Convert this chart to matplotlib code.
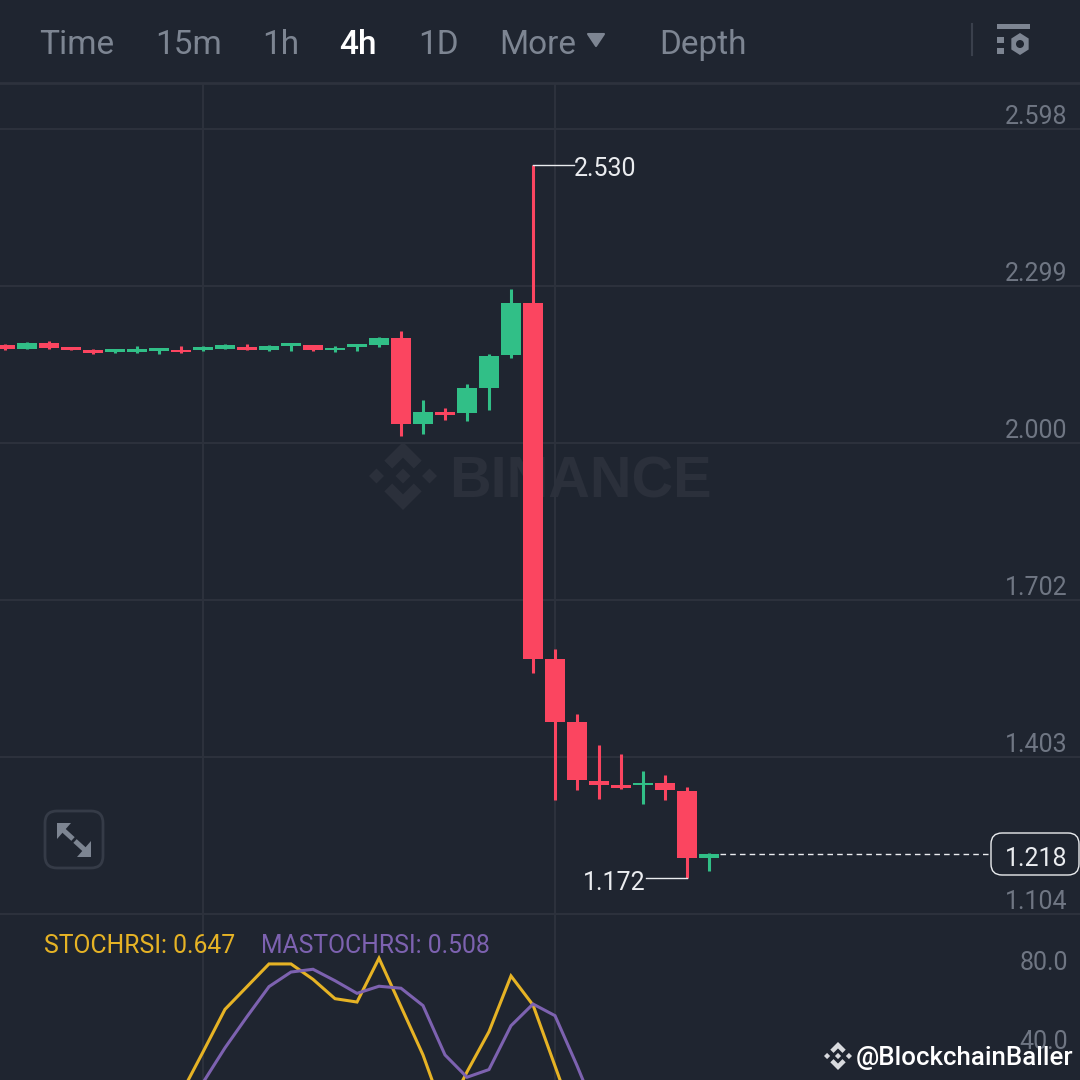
import numpy as np
import matplotlib
matplotlib.use('Agg')
import matplotlib.pyplot as plt
import matplotlib.transforms as mtrans
from matplotlib.patches import FancyBboxPatch, Polygon, Rectangle, Circle

plt.rcParams['font.family'] = ['Roboto', 'DejaVu Sans']

# candles
opens = [2.187, 2.179, 2.190, 2.183, 2.178, 2.174, 2.174, 2.176, 2.178, 2.178, 2.180,
         2.183, 2.178, 2.184, 2.187, 2.177, 2.183, 2.186, 2.200, 2.037, 2.059, 2.058,
         2.105, 2.168, 2.266, 1.589, 1.469, 1.356, 1.349, 1.348, 1.352, 1.338, 1.209]
closes = [2.179, 2.190, 2.182, 2.177, 2.172, 2.180, 2.180, 2.182, 2.173, 2.183, 2.186,
          2.178, 2.185, 2.190, 2.177, 2.182, 2.189, 2.200, 2.037, 2.060, 2.054, 2.105,
          2.166, 2.266, 1.589, 1.469, 1.358, 1.349, 1.344, 1.353, 1.339, 1.209, 1.218]
highs = [2.189, 2.193, 2.194, 2.183, 2.179, 2.180, 2.185, 2.182, 2.184, 2.185, 2.188,
         2.189, 2.187, 2.190, 2.187, 2.185, 2.189, 2.202, 2.213, 2.082, 2.067, 2.113,
         2.170, 2.293, 2.530, 1.608, 1.484, 1.425, 1.408, 1.375, 1.368, 1.345, 1.219]
lows = [2.177, 2.179, 2.179, 2.177, 2.170, 2.172, 2.172, 2.170, 2.172, 2.176, 2.179,
        2.177, 2.176, 2.175, 2.176, 2.174, 2.175, 2.183, 2.014, 2.018, 2.044, 2.042,
        2.063, 2.163, 1.563, 1.320, 1.340, 1.322, 1.342, 1.312, 1.320, 1.172, 1.185]

# stoch rsi pane
stoch_start = 8
stochrsi = [19.8, 41.0, 62.6, 74.1, 85.6, 85.6, 77.8, 68.0, 66.3, 88.5, 64.0, 39.5,
            8.6, 30.9, 51.3, 79.5, 64.8, 33.9, 3.0]
mastochrsi = [11.6, 25.5, 43.1, 58.9, 74.1, 81.5, 82.9, 77.1, 70.7, 74.3, 73.3, 64.5,
              39.5, 28.2, 32.1, 54.3, 65.3, 59.4, 34.1, 7.0]

price_ticks = [2.598, 2.299, 2.000, 1.702, 1.403, 1.104]
stoch_ticks = [80.0, 40.0]
grid_candles = [9, 25]
last_price = 1.218
high_label = 2.530
low_label = 1.172
menu_items = ['Time', '15m', '1h', '4h', '1D', 'More', 'Depth']
menu_x = [39, 155, 262, 339, 418, 499, 659]

BG = '#1f2530'
GRID = '#2d323d'
GREEN = '#31bf87'
RED = '#fb4560'
YELLOW = '#e6b325'
PURPLE = '#7d62b0'
MUTED = '#7d8592'
TICK = '#6f7683'
WHITE = '#eaecef'
WATER = '#2b303b'


def binance_logo(ax, cx, cy, r, color, zorder=1):
    top = [(0, 1), (.55, .45), (.32, .22), (0, .54), (-.32, .22), (-.55, .45)]
    bottom = [(x, -y) for x, y in top]
    def diamond(dx):
        return [(dx, .22), (dx + .22, 0), (dx, -.22), (dx - .22, 0)]
    for shape in [top, bottom, diamond(0), diamond(-.78), diamond(.78)]:
        pts = [(cx + x * r, cy - y * r) for x, y in shape]
        ax.add_patch(Polygon(pts, closed=True, fc=color, ec='none', zorder=zorder))


fig = plt.figure(figsize=(10.8, 10.8), dpi=100, facecolor=BG)

# background layer in pixels, for the faint watermark
bg = fig.add_axes([0, 0, 1, 1], zorder=0)
bg.set_xlim(0, 1080)
bg.set_ylim(1080, 0)
bg.axis('off')
binance_logo(bg, 403, 476, 34, WATER)
bg.text(449, 482, 'BINANCE', color=WATER, fontsize=41.5, fontweight='bold',
        family='Liberation Sans', ha='left', va='center')

xlim = (-5 / 22, 1075 / 22)
x = np.arange(len(opens))

# price pane
ax = fig.add_axes([0, 166 / 1080, 1, 831 / 1080], zorder=1)
ax.patch.set_visible(False)
ax.set_xlim(*xlim)
ax.set_ylim(1.1032, 2.6858)
ax.set_xticks(grid_candles)
ax.set_xticklabels([])
ax.set_yticks(price_ticks)
ax.set_yticklabels(['%.3f' % p for p in price_ticks])
ax.yaxis.tick_right()
ax.grid(True, color=GRID, lw=1.4, zorder=0)
ax.set_axisbelow(True)
ax.tick_params(length=0)
for s in ax.spines.values():
    s.set_visible(False)

for i in x:
    col = GREEN if closes[i] >= opens[i] else RED
    ax.vlines(i, lows[i], highs[i], color=col, lw=2.2, zorder=3)
    ax.bar(i, abs(closes[i] - opens[i]), bottom=min(opens[i], closes[i]), width=0.89,
           color=col, lw=0, zorder=3)

# high, low and last price callouts
ax.plot([24, 24 + 41 / 22], [high_label, high_label], color=WHITE, lw=1, zorder=4)
ax.annotate('%.3f' % high_label, xy=(24 + 41 / 22, high_label), xytext=(0, -4), textcoords='offset pixels',
            color=WHITE, fontsize=18, ha='left', va='center', zorder=4)
ax.plot([31 - 41 / 22, 31], [low_label, low_label], color=WHITE, lw=1, zorder=4)
ax.annotate('%.3f' % low_label, xy=(31 - 41 / 22, low_label), xytext=(0, -5), textcoords='offset pixels',
            color=WHITE, fontsize=18, ha='right', va='center', zorder=4)
ax.plot([32.5, 44.77], [last_price, last_price], color=WHITE, lw=1, dashes=(4, 3), zorder=4)

# stoch pane
ax2 = fig.add_axes([0, 0, 1, 166 / 1080], zorder=1)
ax2.patch.set_visible(False)
ax2.set_xlim(*xlim)
ax2.set_ylim(26.8, 110.9)
ax2.set_xticks(grid_candles)
ax2.set_xticklabels([])
ax2.set_yticks(stoch_ticks)
ax2.set_yticklabels(['%.1f' % v for v in stoch_ticks])
ax2.yaxis.tick_right()
ax2.grid(True, axis='x', color=GRID, lw=1.4)
ax2.set_axisbelow(True)
ax2.tick_params(length=0)
for s in ax2.spines.values():
    s.set_visible(False)
ax2.plot(stoch_start + np.arange(len(stochrsi)), stochrsi, color=YELLOW, lw=2.2, solid_joinstyle='miter')
ax2.plot(stoch_start + np.arange(len(mastochrsi)), mastochrsi, color=PURPLE, lw=2.2, solid_joinstyle='miter')

# tick labels sit inside the plot, just above their grid line
for a in [ax, ax2]:
    for lab in a.get_yticklabels():
        lab.set_color(TICK)
        lab.set_fontsize(18)
        lab.set_ha('right')
        lab.set_va('bottom')
        lab.set_transform(mtrans.offset_copy(lab.get_transform(), fig=fig, x=-17, y=0, units='dots'))

# app chrome on top, in pixels
ui = fig.add_axes([0, 0, 1, 1], zorder=2)
ui.patch.set_visible(False)
ui.set_xlim(0, 1080)
ui.set_ylim(1080, 0)
ui.axis('off')

ui.plot([0, 1080], [83, 83], color=GRID, lw=2)
ui.plot([0, 1080], [914, 914], color=GRID, lw=1.4)
for name, mx in zip(menu_items, menu_x):
    active = name == '4h'
    ui.text(mx, 45, name, color='white' if active else MUTED, fontsize=24,
            fontweight='medium' if active else 'normal', ha='left', va='center')
ui.add_patch(Polygon([(588, 34), (604, 34), (596, 46)], closed=True, fc=MUTED, ec=MUTED, lw=1.5, joinstyle='round'))
ui.plot([972, 972], [24, 55], color='#3a404c', lw=1.5)
ui.add_patch(Rectangle((997, 24), 33, 5, fc=MUTED, ec='none'))
ui.add_patch(Rectangle((997, 37), 7, 6, fc=MUTED, ec='none'))
ui.add_patch(Rectangle((997, 48), 7, 6, fc=MUTED, ec='none'))
hexa = [(1020 + 10 * np.sin(a), 44 + 11 * np.cos(a)) for a in np.arange(6) * np.pi / 3]
ui.add_patch(Polygon(hexa, closed=True, fc=MUTED, ec='none'))
ui.add_patch(Circle((1020, 44), 4, fc=BG, ec='none'))

ui.text(44, 946, 'STOCHRSI: 0.647', color=YELLOW, fontsize=17.8, ha='left', va='center')
ui.text(261, 946, 'MASTOCHRSI: 0.508', color=PURPLE, fontsize=17.8, ha='left', va='center')

# last price box
ui.add_patch(FancyBboxPatch((999, 841), 72, 26, boxstyle='round,pad=8,rounding_size=11',
                            fc=BG, ec=WHITE, lw=1, zorder=5))
ui.text(1036, 859, '%.3f' % last_price, color=WHITE, fontsize=18, ha='center', va='center', zorder=6)

# expand button
ui.add_patch(FancyBboxPatch((55, 821), 38, 37, boxstyle='round,pad=10,rounding_size=12',
                            fc='none', ec='#353b47', lw=2))
ui.add_patch(Polygon([(57, 823), (71, 823), (57, 839)], closed=True, fc=MUTED, ec='none'))
ui.add_patch(Polygon([(91, 857), (77, 857), (91, 841)], closed=True, fc=MUTED, ec='none'))
ui.plot([62, 73], [829, 839], color=MUTED, lw=3.6, solid_capstyle='butt')
ui.plot([75, 86], [841, 851], color=MUTED, lw=3.6, solid_capstyle='butt')

# poster's tag
binance_logo(ui, 838, 1056, 14, '#d8dade', zorder=6)
ui.text(856, 1058, '@BlockchainBaller', color='white', fontsize=18.6, fontweight='medium',
        ha='left', va='center', zorder=6)

fig.savefig('out.png', dpi=100, facecolor=BG)
